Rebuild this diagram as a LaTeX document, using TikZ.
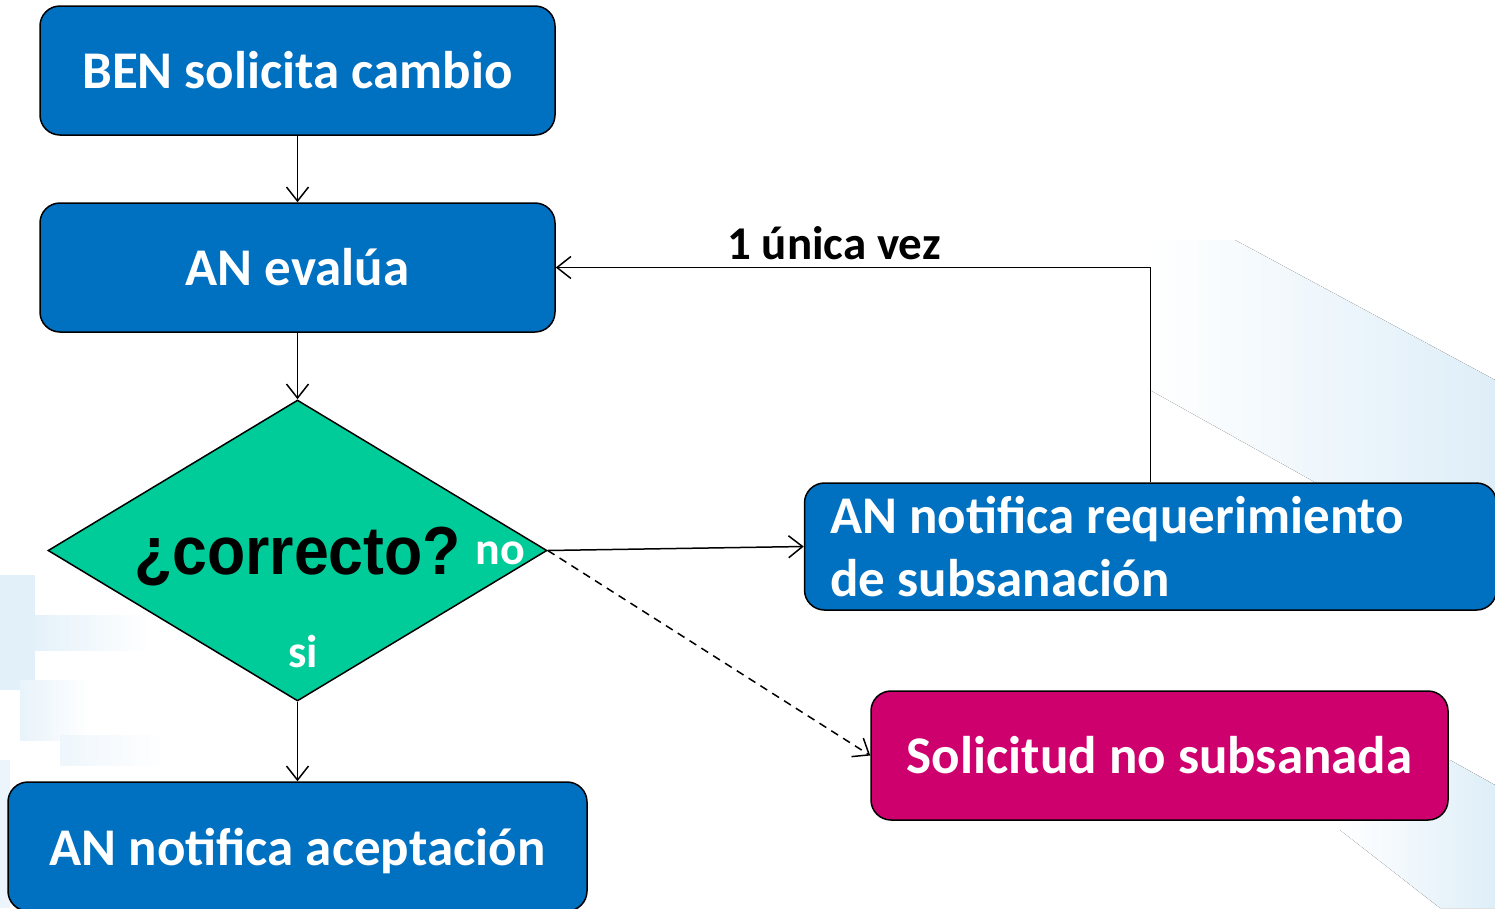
\documentclass[tikz,border=0pt]{standalone}
\usepackage{fontspec}
\setmainfont{Carlito}
\newfontfamily\arialfont[FakeStretch=0.92]{Liberation Sans}
\usetikzlibrary{shapes.geometric,arrows.meta}

\definecolor{azul}{RGB}{0,112,192}
\definecolor{verde}{RGB}{0,204,153}
\definecolor{rosa}{RGB}{206,0,110}
\definecolor{fondo}{RGB}{222,238,248}

\tikzset{
  caja/.style={draw=black, line width=1.5pt, rounded corners=20pt, fill=azul, text=white,
    font=\fontsize{53}{63}\selectfont\bfseries, minimum height=129pt, inner sep=0pt},
  flecha/.style={line width=1.5pt, -{Straight Barb[length=14pt,width=22pt,line width=1.5pt]}},
  etiq/.style={font=\fontsize{46}{50}\selectfont\bfseries, inner sep=0pt},
}

\begin{document}
\begin{tikzpicture}[x=1pt,y=-1pt]
    \useasboundingbox (0,0) rectangle (1495,908);
    % fondo de la diapositiva
    \fill[left color=white, right color=fondo] (1150,240) -- (1235,240) -- (1495,380) -- (1495,600) -- (1320,485) -- (1150,390) -- cycle;
    \fill[left color=white, right color=fondo] (1340,760) -- (1450,760) -- (1495,785) -- (1495,908) -- (1440,908) -- (1340,830) -- cycle;
    \fill[fondo!90] (0,575) rectangle (35,690);
    \fill[left color=fondo!80, right color=white] (35,615) rectangle (150,650);
    \fill[left color=fondo!70, right color=white] (20,680) rectangle (90,740);
    \fill[left color=fondo!50, right color=white] (60,735) rectangle (165,765);
    \fill[fondo!60] (0,760) rectangle (10,908);

    \node[caja, minimum width=515pt] (ben) at (297.5,70.5) {BEN solicita cambio};
    \node[caja, minimum width=515pt] (evalua) at (297.5,267.5) {AN evalúa};
    \node[diamond, aspect=1.66, draw, line width=1.5pt, fill=verde, minimum width=499pt, minimum height=301pt, inner sep=0pt,
      text depth=0pt, font=\arialfont\fontsize{68}{72}\selectfont\bfseries] (correcto) at (297.5,550.5) {¿correcto?};
    \node[etiq, text=white] (no) at (500,553) {no};
    \node[etiq, text=white] (si) at (303,652) {si};
    \node[caja, minimum width=579pt, text depth=0pt] (acepta) at (297.5,846.5) {AN notifica aceptación};
    \node[caja, minimum width=691pt, minimum height=127pt, text width=640pt, align=flush left, inner xsep=26pt] (requer) at (1150.5,546.5) {AN notifica requerimiento\\de subsanación};
    \node[caja, fill=rosa, minimum width=577pt] (nosub) at (1159.5,755.5) {Solicitud no subsanada};
    \node[etiq, font=\fontsize{47}{50}\selectfont\bfseries] (vez) at (834,243) {1 única vez};

    \draw[flecha] (ben) -- (evalua);
    \draw[flecha] (evalua) -- (correcto);
    \draw[flecha] (correcto) -- (acepta);
    \draw[flecha] (correcto.east) -- (requer.west);
    \draw[flecha, dash pattern=on 8pt off 6pt] (correcto.east) -- (nosub.west);
    \draw[flecha] (requer.north) |- (evalua.east);
\end{tikzpicture}
\end{document}
